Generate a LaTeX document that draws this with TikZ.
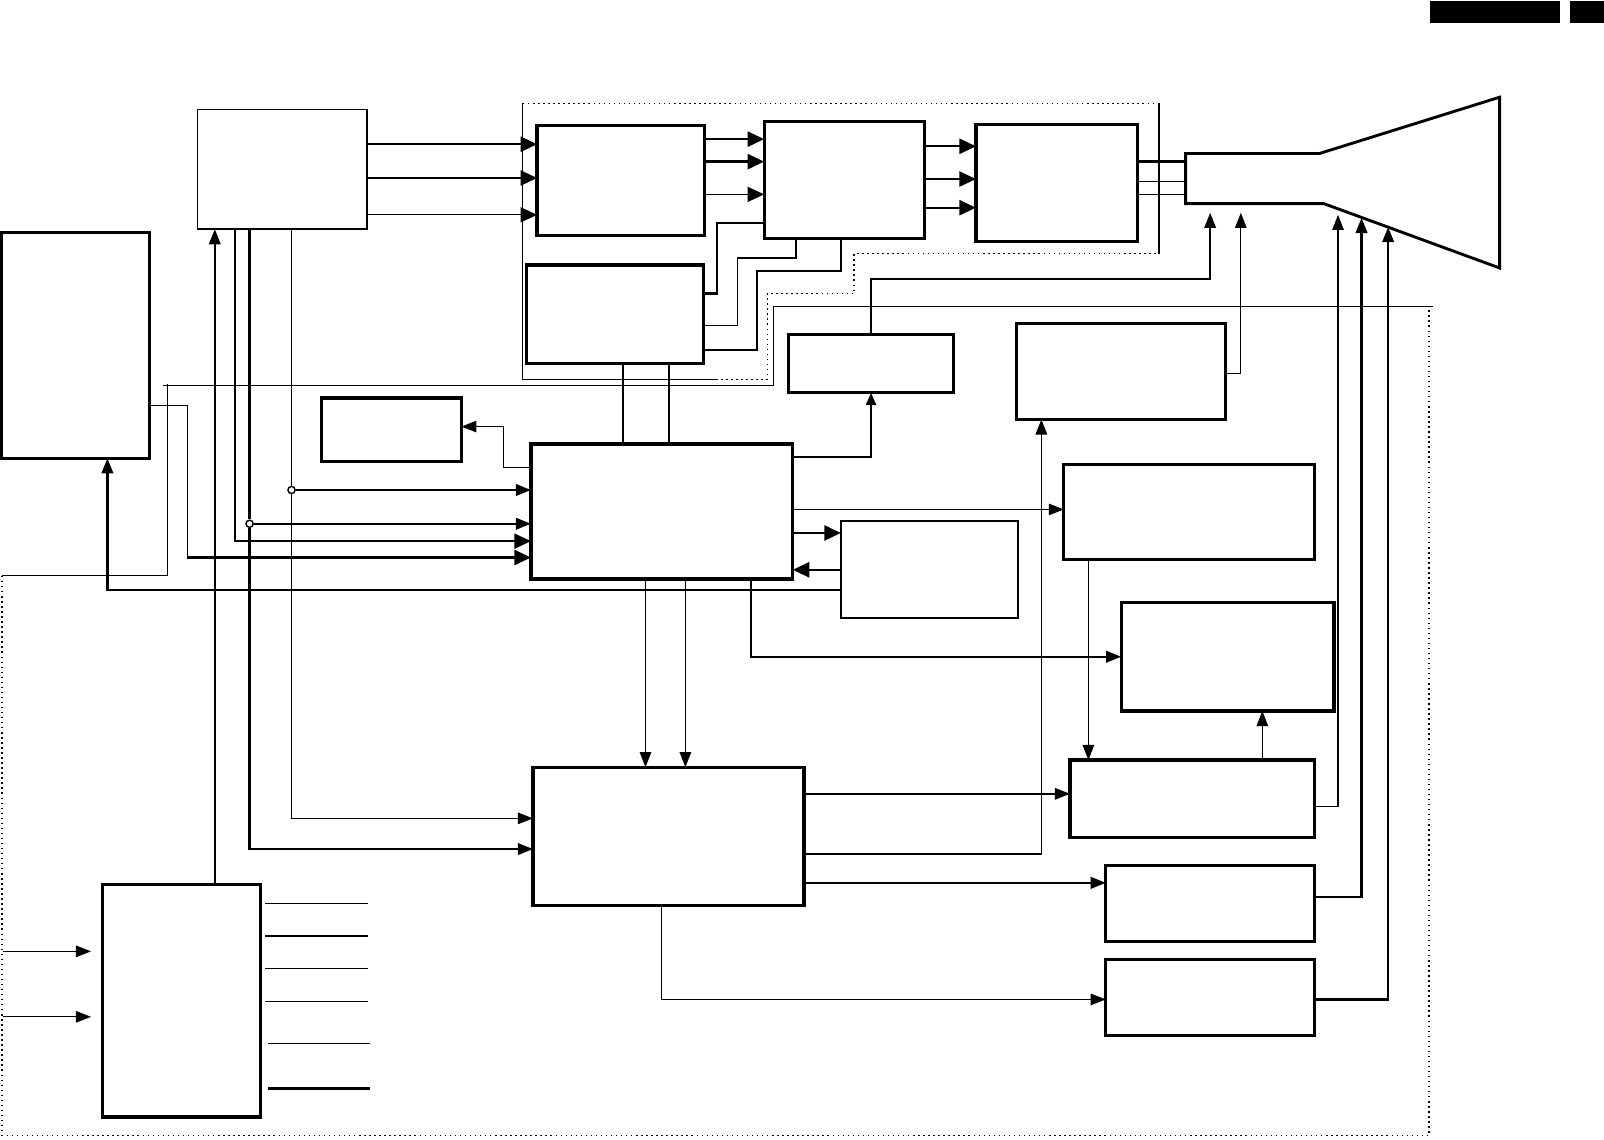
\documentclass[tikz,border=0pt]{standalone}
\usepackage{tikz}
\usetikzlibrary{arrows.meta, positioning, fit, calc}

\begin{document}
\begin{tikzpicture}[
  x=0.01cm, y=-0.01cm,
  blk/.style={draw, line width=0.9pt, inner sep=0pt, outer sep=0pt},
  lblk/.style={draw, line width=0.45pt, inner sep=0pt, outer sep=0pt},
  thn/.style={line width=0.3pt},
  med/.style={line width=0.45pt},
  thk/.style={line width=0.65pt},
  arr/.style={-{Triangle[length=4.2pt, width=3.2pt]}},
  barr/.style={-{Triangle[length=4.6pt, width=4.2pt]}},
  sarr/.style={-{Triangle[length=3.4pt, width=2.8pt]}},
  tap/.style={circle, draw, line width=0.4pt, fill=white, inner sep=0pt, minimum size=0.7mm},
  frame/.style={line width=0.4pt, densely dotted}
]
\useasboundingbox (0,0) rectangle (1568,1114);

% header bars
\fill (1398,1) rectangle (1525,22);
\fill (1535,1) rectangle (1568,22);

% blocks
\node[lblk, fit={(193,107) (359,224)}] (dec) {};
\node[blk, fit={(1,227) (146,448)}] (pwr) {};
\node[blk, fit={(525,123) (689,230)}] (mtx) {};
\node[blk, fit={(747,119) (904,233)}] (amp) {};
\node[blk, fit={(954,122) (1112,236)}] (out) {};
\node[blk, fit={(515,259) (688,355)}] (osd) {};
\node[blk, fit={(314,389) (451,451)}] (key) {};
\node[blk, fit={(771,327) (932,384)}] (hv) {};
\node[blk, fit={(994,316) (1198,410)}] (focus) {};
\node[blk, fit={(519,434) (775,566)}] (ctl) {};
\node[lblk, fit={(822,509) (995,604)}] (mem) {};
\node[blk, fit={(1040,454) (1285,547)}] (hdr) {};
\node[blk, fit={(1096,589) (1304,695)}] (hdef) {};
\node[blk, fit={(1046,743) (1285,819)}] (hout) {};
\node[blk, fit={(521,750) (786,885)}] (defl) {};
\node[blk, fit={(1081,846) (1285,920)}] (vout) {};
\node[blk, fit={(1081,938) (1285,1012)}] (ew) {};
\node[blk, fit={(100,865) (255,1092)}] (aud) {};

% picture tube
\draw[line width=0.8pt] (1159,150) -- (1290,150) -- (1466,95) -- (1466,262) -- (1294,199) -- (1159,199) -- cycle;
\coordinate (crt) at (1159,175);
\coordinate (crtA) at (1183,208);
\coordinate (crtB) at (1213,208);
\coordinate (crtC) at (1308,210);
\coordinate (crtD) at (1331,213);
\coordinate (crtE) at (1357,222);

% video path
\draw[thk, barr] (dec.east |- 0,141) -- (mtx.west |- 0,141);
\draw[thk, barr] (dec.east |- 0,174) -- (mtx.west |- 0,174);
\draw[thn, barr] (dec.east |- 0,210) -- (mtx.west |- 0,210);
\draw[thk, barr] (mtx.east |- 0,136) -- (amp.west |- 0,136);
\draw[thk, barr] (mtx.east |- 0,158) -- (amp.west |- 0,158);
\draw[thn, barr] (mtx.east |- 0,190) -- (amp.west |- 0,190);
\draw[thk, barr] (amp.east |- 0,143) -- (out.west |- 0,143);
\draw[thk, barr] (amp.east |- 0,175) -- (out.west |- 0,175);
\draw[thk, barr] (amp.east |- 0,203) -- (out.west |- 0,203);
\draw[thk] (out.east |- 0,158) -- (crt |- 0,158);
\draw[thn] (out.east |- 0,177) -- (crt |- 0,177);
\draw[thn] (out.east |- 0,190) -- (crt |- 0,190);

% osd lines
\draw[thk] (osd.east |- 0,287) -- (701,287) -- (701,218) -- (amp.west |- 0,218);
\draw[med] (osd.east |- 0,318) -- (721,318) -- (721,252) -- (778,252) -- (amp.south -| 778,0);
\draw[med] (osd.east |- 0,342) -- (740,342) -- (740,265) -- (822,265) -- (amp.south -| 822,0);
\draw[med] (osd.south -| 609,0) -- (ctl.north -| 609,0);
\draw[med] (osd.south -| 654,0) -- (ctl.north -| 654,0);

% dotted frames
\draw[thn] (1133,248) -- (1133,101);
\draw[frame] (1133,101) -- (511,101);
\draw[thn] (511,101) -- (511,371) -- (700,371);
\draw[frame] (700,371) -- (750,371) -- (750,287) -- (835,287) -- (835,248) -- (1133,248);
\draw[thn] (159,377) -- (756,377) -- (756,300) -- (1401,300);
\draw[thn] (2,563) -- (164,563) -- (164,375);
\draw[frame] (2,563) -- (2,1110) -- (1397,1110) -- (1397,300);

% inputs of the controller
\node[tap] (j1) at (285,479) {};
\node[tap] (j2) at (244,512) {};
\coordinate (j3) at (183,545);
\draw[thn] (dec.south -| 285,0) -- (j1);
\draw[thn, arr] (j1) |- (defl.west |- 0,800);
\draw[thk] (dec.south -| 244,0) -- (j2);
\draw[thk, arr] (j2) |- (defl.west |- 0,830);
\draw[thk, arr] (j1) -- (ctl.west |- j1);
\draw[thk, arr] (j2) -- (ctl.west |- j2);
\draw[med, barr] (dec.south -| 230,0) |- (ctl.west |- 0,529);
\draw[thn] (pwr.east |- 0,396) -| (j3);
\draw[thk, barr] (j3) -- (ctl.west |- j3);
\draw[med, arr] (aud.north -| 210,0) -- (dec.south -| 210,0);
\draw[thk, arr] (mem.west |- 0,577) -| (pwr.south -| 105,0);
\draw[thn, arr] (ctl.west |- 0,457) -- (492,457) -- (492,417) -- (key.east |- 0,417);

% controller outputs
\draw[thk, sarr] (ctl.east |- 0,447) -| (hv.south);
\draw[med, arr] (hv.north) -- (hv.north |- 0,273) -| (crtA);
\draw[thn, arr] (focus.east |- 0,365) -| (crtB);
\draw[thn, arr] (ctl.east |- 0,498) -- (hdr.west |- 0,498);
\draw[thk, barr] (ctl.east |- 0,521) -- (mem.west |- 0,521);
\draw[thk, barr] (mem.west |- 0,557) -- (ctl.east |- 0,557);
\draw[thn, arr] (ctl.south -| 631,0) -- (defl.north -| 631,0);
\draw[thn, arr] (ctl.south -| 670,0) -- (defl.north -| 670,0);
\draw[thk, arr] (ctl.south -| 734,0) |- (hdef.west |- 0,642);

% deflection
\draw[thn, arr] (hdr.south -| 1064,0) -- (hout.north -| 1064,0);
\draw[thn, arr] (hout.north -| 1234,0) -- (hdef.south -| 1234,0);
\draw[med, arr] (defl.east |- 0,776) -- (hout.west |- 0,776);
\draw[med, arr] (defl.east |- 0,835) -| (focus.south -| 1018,0);
\draw[thk, arr] (defl.east |- 0,863) -- (vout.west |- 0,863);
\draw[thn, arr] (defl.south -| 647,0) |- (ew.west |- 0,977);
\draw[thn, arr] (hout.east |- 0,788) -| (crtC);
\draw[thk, arr] (vout.east |- 0,877) -| (crtD);
\draw[thk, arr] (ew.east |- 0,977) -| (crtE);

% audio block
\coordinate (in1) at (3,930);
\coordinate (in2) at (3,994);
\draw[thn, arr, shorten >=1.1mm] (in1) -- (aud.west |- in1);
\draw[thn, arr, shorten >=1.1mm] (in2) -- (aud.west |- in2);
\foreach \yy in {883,915,947,979}
  \draw[thn, shorten <=0.4mm] (aud.east |- 0,\yy) -- ++(105,0);
\draw[thn, shorten <=0.7mm] (aud.east |- 0,1020) -- ++(107,0);
\draw[thk, shorten <=0.7mm] (aud.east |- 0,1064) -- ++(107,0);
\end{tikzpicture}
\end{document}
